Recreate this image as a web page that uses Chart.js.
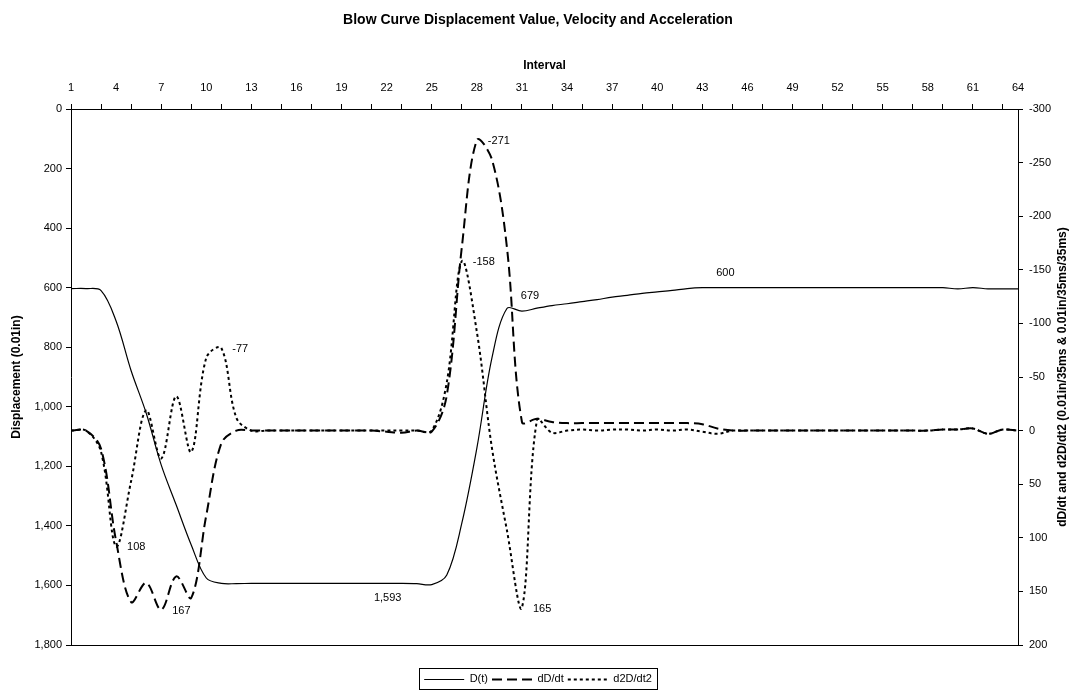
<!DOCTYPE html>
<html>
<head>
<meta charset="utf-8">
<script src="https://cdn.jsdelivr.net/npm/chart.js@4.4.0/dist/chart.umd.min.js"></script>
<style>
  html, body { margin: 0; padding: 0; background: #fff; }
  #wrap { width: 1076px; height: 694px; }
</style>
</head>
<body>
<div id="wrap"><canvas id="blow" width="1076" height="694"></canvas></div>
<script>
// interval numbers (x categories) and which of them get a label
const intervals = [1,2,3,4,5,6,7,8,9,10,11,12,13,14,15,16,17,18,19,20,21,22,23,24,25,26,27,28,29,30,31,32,
  33,34,35,36,37,38,39,40,41,42,43,44,45,46,47,48,49,50,51,52,53,54,55,56,57,58,59,60,61,62,63,64];
const xTickLabels = [1,4,7,10,13,16,19,22,25,28,31,34,37,40,43,46,49,52,55,58,61,64];
const dispTicks = [0,200,400,600,800,1000,1200,1400,1600,1800];
const rateTicks = [-300,-250,-200,-150,-100,-50,0,50,100,150,200];

const seriesNames = ['D(t)', 'dD/dt', 'd2D/dt2'];

// D(t), 0.01in
const displacement = [603,603,610,712,879,1021,1195,1330,1464,1575,1593,1594,1593,1593,1593,1593,
  1593,1593,1593,1593,1593,1593,1593,1594,1597,1565,1391,1139,837,670,679,669,
  660,654,647,640,632,626,619,614,609,603,600,600,600,600,600,600,
  600,600,600,600,600,600,600,600,600,600,600,604,600,604,604,604];
// dD/dt
const velocity = [0,0,17,103,160,142,167,136,156,79,12,0,0,0,0,0,
  0,0,0,0,0,1,2,0,1,-33,-171,-271,-253,-171,-8,-11,
  -8,-7,-7,-7,-7,-7,-7,-7,-7,-7,-6,-2,0,0,0,0,
  0,0,0,0,0,0,0,0,0,0,-1,-1,-2,3,-1,0];
// d2D/dt2
const acceleration = [0,0,20,108,47,-19,26,-32,20,-68,-77,-12,0,0,0,0,
  0,0,0,0,0,0,0,0,0,-45,-158,-92,16,93,165,-10,
  2,0,-1,0,-1,-1,0,-1,0,-1,1,3,0,0,0,0,
  0,0,0,0,0,0,0,0,0,0,-1,-1,-2,3,-1,0];

// value labels: [series index, interval, placement]
const pointLabels = [
  [0, 22, 'below'], [0, 31, 'above'], [0, 44, 'above'],
  [1, 7, 'right'], [1, 28, 'right'],
  [2, 4, 'right'], [2, 11, 'right'], [2, 27, 'right'], [2, 31, 'right']
];

const FONT = "'Liberation Sans', Arial, sans-serif";
const fmt = v => Number(v).toLocaleString('en-US');
const SAMPLE_W = 40;

const pointLabelPlugin = {
  id: 'pointLabels',
  afterDatasetsDraw(chart) {
    const ctx = chart.ctx;
    ctx.save();
    ctx.font = '11px ' + FONT;
    ctx.fillStyle = '#000';
    ctx.textBaseline = 'middle';
    pointLabels.forEach(([ds, iv, place]) => {
      const idx = intervals.indexOf(iv);
      const pt = chart.getDatasetMeta(ds).data[idx];
      const txt = fmt(chart.data.datasets[ds].data[idx]);
      if (place === 'right') {
        ctx.textAlign = 'left';
        ctx.fillText(txt, pt.x + 11, pt.y + 1);
      } else if (place === 'above') {
        ctx.textAlign = 'center';
        ctx.fillText(txt, pt.x + 8, pt.y - 15);
      } else {
        ctx.textAlign = 'center';
        ctx.fillText(txt, pt.x + 1, pt.y + 15);
      }
    });
    ctx.restore();
  }
};

// Chart.js turns a right axis title top-to-bottom; the original reads bottom-to-top
const rightTitlePlugin = {
  id: 'rightTitle',
  afterDraw(chart) {
    const {ctx, chartArea} = chart;
    const s = chart.scales.y2;
    ctx.save();
    ctx.translate(s.right - 13, (chartArea.top + chartArea.bottom) / 2);
    ctx.rotate(-Math.PI / 2);
    ctx.font = 'bold 12px ' + FONT;
    ctx.fillStyle = '#000';
    ctx.textAlign = 'center';
    ctx.textBaseline = 'middle';
    ctx.fillText('dD/dt and d2D/dt2 (0.01in/35ms & 0.01in/35ms/35ms)', 0, 0);
    ctx.restore();
  }
};

// frame round the legend, and line samples drawn with each dataset's dash
const legendBoxPlugin = {
  id: 'legendBox',
  afterDraw(chart) {
    const boxes = chart.legend && chart.legend.legendHitBoxes;
    if (!boxes || !boxes.length) return;
    const ctx = chart.ctx;
    ctx.save();
    ctx.strokeStyle = '#000';
    boxes.forEach((hb, i) => {
      const ds = chart.data.datasets[i];
      const y = Math.round(hb.top + hb.height / 2) + 0.5;
      ctx.lineWidth = ds.borderWidth;
      ctx.setLineDash(ds.borderDash || []);
      ctx.beginPath();
      ctx.moveTo(hb.left, y);
      ctx.lineTo(hb.left + SAMPLE_W, y);
      ctx.stroke();
    });
    const last = boxes[boxes.length - 1];
    const l = Math.round(boxes[0].left - 5) + 0.5;
    const r = Math.round(last.left + last.width + 5) + 0.5;
    const t = Math.round(boxes[0].top - 5) + 0.5;
    const b = Math.round(boxes[0].top + boxes[0].height + 5) + 0.5;
    ctx.setLineDash([]);
    ctx.lineWidth = 1;
    ctx.strokeRect(l, t, r - l, b - t);
    ctx.restore();
  }
};

const tickFont = { family: FONT, size: 11 };
const titleFont = { family: FONT, size: 12, weight: 'bold' };

new Chart(document.getElementById('blow'), {
  type: 'line',
  data: {
    labels: intervals,
    datasets: [
      { label: seriesNames[0], data: displacement, yAxisID: 'y', borderColor: '#000', backgroundColor: '#000',
        borderWidth: 1.2, pointRadius: 0, tension: 0.35 },
      { label: seriesNames[1], data: velocity, yAxisID: 'y2', borderColor: '#000', backgroundColor: '#000',
        borderWidth: 2, borderDash: [10, 5], pointRadius: 0, tension: 0.35 },
      { label: seriesNames[2], data: acceleration, yAxisID: 'y2', borderColor: '#000', backgroundColor: '#000',
        borderWidth: 2, borderDash: [3, 3], pointRadius: 0, tension: 0.35 }
    ]
  },
  options: {
    responsive: false, animation: false, devicePixelRatio: 1,
    layout: { padding: 0 },
    plugins: {
      title: {
        display: true, text: 'Blow Curve Displacement Value, Velocity and Acceleration', color: '#000',
        font: { family: FONT, size: 14, weight: 'bold' }, padding: { top: 11.6, bottom: 0 }
      },
      legend: {
        position: 'bottom',
        labels: {
          usePointStyle: true, pointStyle: 'line', pointStyleWidth: SAMPLE_W, color: '#000', font: tickFont, padding: 4,
          generateLabels: chart => Chart.defaults.plugins.legend.labels.generateLabels(chart)
            .map(item => ({ ...item, lineWidth: 0 }))
        }
      },
      tooltip: { enabled: false }
    },
    scales: {
      x: {
        type: 'category', position: 'top', offset: false,
        title: { display: true, text: 'Interval', color: '#000', font: titleFont, padding: { top: 30.4, bottom: 0 } },
        ticks: { autoSkip: false, maxRotation: 0, color: '#000', font: tickFont, padding: 9.4,
          callback: (v, i) => xTickLabels.includes(intervals[i]) ? intervals[i] : '' },
        grid: { drawOnChartArea: false, tickLength: 5,
          tickColor: c => intervals[c.index] % 2 === 1 ? '#000' : 'rgba(0,0,0,0)' },
        border: { color: '#000', width: 1 },
        afterFit: s => { s.height = 80.6; }
      },
      x2: {
        type: 'category', position: 'bottom', offset: false,
        ticks: { display: false },
        grid: { drawOnChartArea: false, drawTicks: false },
        border: { color: '#000', width: 1 },
        afterFit: s => { s.height = 24; }
      },
      y: {
        position: 'left', reverse: true, min: 0, max: 1800,
        afterBuildTicks: s => { s.ticks = dispTicks.map(v => ({ value: v })); },
        ticks: { color: '#000', font: tickFont, padding: 4, callback: v => fmt(v) },
        grid: { drawOnChartArea: false, tickLength: 5, tickColor: '#000' },
        border: { color: '#000', width: 1 },
        title: { display: true, text: 'Displacement (0.01in)', color: '#000', font: titleFont, padding: { top: 9.8, bottom: 0 } },
        afterFit: s => { s.width = 71; }
      },
      y2: {
        position: 'right', reverse: true, min: -300, max: 200,
        afterBuildTicks: s => { s.ticks = rateTicks.map(v => ({ value: v })); },
        ticks: { color: '#000', font: tickFont, padding: 6, callback: v => fmt(v) },
        grid: { drawOnChartArea: false, tickLength: 5, tickColor: '#000' },
        border: { color: '#000', width: 1 },
        afterFit: s => { s.width = 58; }
      }
    }
  },
  plugins: [pointLabelPlugin, rightTitlePlugin, legendBoxPlugin]
});
</script>
</body>
</html>
